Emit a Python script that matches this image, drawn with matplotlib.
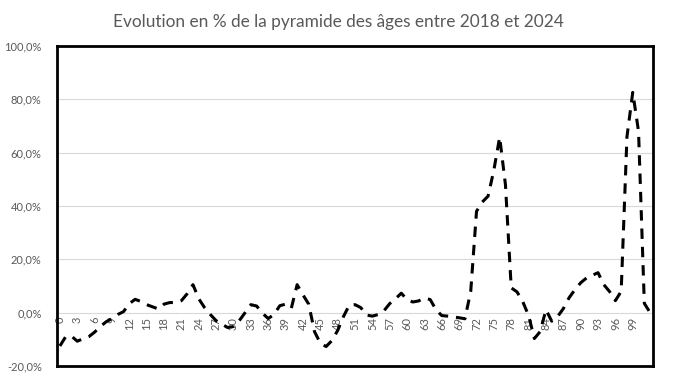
import numpy as np
import matplotlib
matplotlib.use('Agg')
import matplotlib.pyplot as plt
from matplotlib.ticker import FuncFormatter

# Data (percent change per age, 2018 -> 2024)
ages = list(range(0, 103))
evolution = [
    -12.5, -9.0, -8.8, -10.7, -9.8, -9.0, -7.3, -5.2, -3.4, -2.2,    # 0-9
    -0.7, 0.4, 3.4, 5.0, 4.2, 3.0, 2.2, 1.4, 3.2, 3.8,               # 10-19
    3.8, 4.5, 7.1, 10.5, 5.2, 1.9, -0.7, -3.0, -4.3, -5.6,           # 20-29
    -5.2, -3.0, 0.0, 3.0, 2.5, -0.2, -2.2, -0.7, 2.6, 3.2,           # 30-39
    1.7, 10.5, 6.7, 3.2, -7.1, -11.4, -12.7, -10.5, -6.7, -1.5,      # 40-49
    2.8, 3.0, 1.9, -0.9, -1.3, -0.7, 0.7, 3.4, 5.2, 7.3,             # 50-59
    4.9, 4.0, 4.4, 5.5, 4.9, 1.1, -1.1, -1.3, -1.6, -1.9,            # 60-69
    -2.3, 8.0, 38.0, 41.5, 43.7, 53.5, 65.8, 48.0, 9.3, 7.8,         # 70-79
    4.1, -1.1, -9.7, -7.1, 1.1, -3.2, -1.5, 1.5, 5.6, 8.6,           # 80-89
    11.2, 13.0, 14.0, 15.0, 10.5, 7.9, 4.5, 8.0, 66.0, 82.6,         # 90-99
    68.0, 3.5, 0.0,                                                  # 100-102
]
tick_ages = list(range(0, 100, 3))
y_ticks = [-20, 0, 20, 40, 60, 80, 100]
title = 'Evolution en % de la pyramide des âges entre 2018 et 2024'

grey = '#595959'
plt.rcParams['font.family'] = ['Lato', 'DejaVu Sans']

fig = plt.figure(figsize=(6.83, 3.88), dpi=100)
ax = fig.add_axes([57 / 683, 1 - 366 / 388, 596 / 683, 320 / 388])

ax.plot(ages, evolution, color='black', linewidth=2.2,
        linestyle=(0, (3.4, 2.6)), dash_capstyle='butt', solid_joinstyle='round')

ax.set_xlim(-0.5, len(ages) - 0.5)
ax.set_ylim(-20, 100)
ax.set_yticks(y_ticks)
ax.yaxis.set_major_formatter(FuncFormatter(lambda v, p: ('%.1f' % v).replace('.', ',') + '%'))
ax.tick_params(axis='y', length=0, pad=11, labelsize=8, labelcolor=grey)
ax.set_xticks([])
ax.grid(axis='y', color='#d9d9d9', linewidth=0.8)
ax.set_axisbelow(True)
for s in ax.spines.values():
    s.set_color('black')
    s.set_linewidth(2.0)

# category labels sit on the zero line, like in Excel
zero_pos = (0 - (-20)) / 120
sec = ax.secondary_xaxis(zero_pos)
sec.set_xticks(tick_ages)
sec.set_xticklabels([str(a) for a in tick_ages], rotation=90)
sec.tick_params(length=0, pad=3, labelsize=8, labelcolor=grey)
sec.spines['bottom'].set_visible(False)

fig.text(0.495, 1 - 22 / 388, title, ha='center', va='center', fontsize=12.4, color=grey)

fig.savefig('out.png', dpi=100)
